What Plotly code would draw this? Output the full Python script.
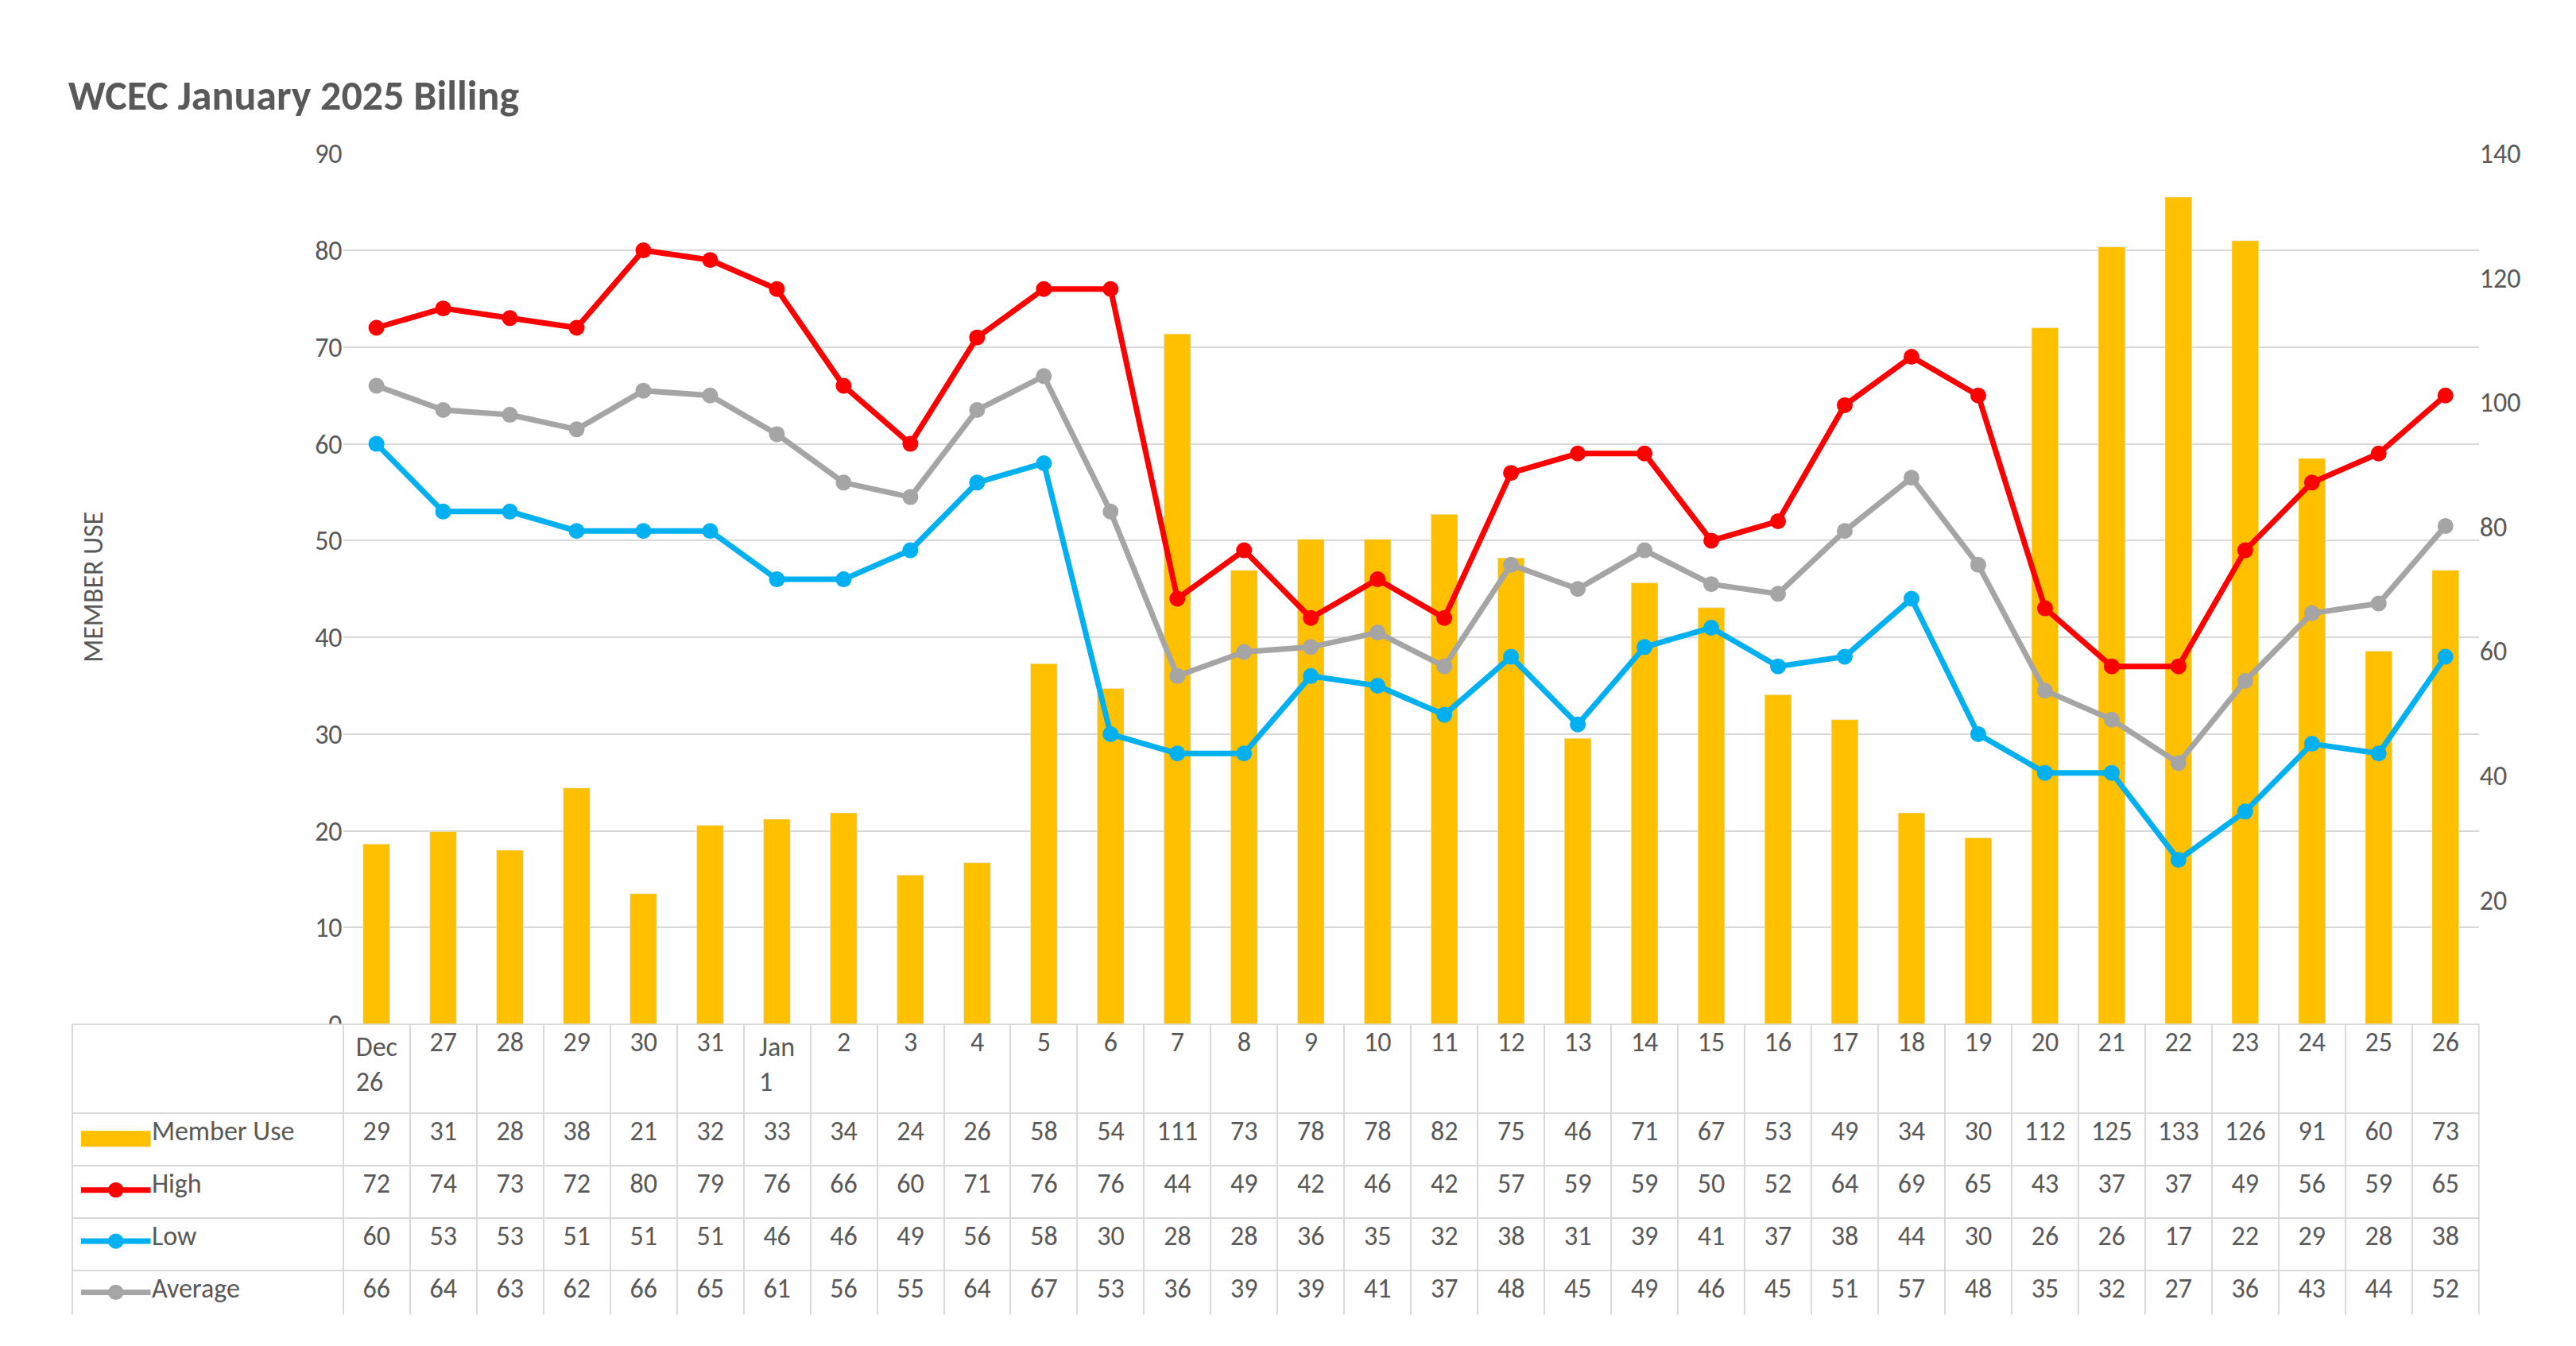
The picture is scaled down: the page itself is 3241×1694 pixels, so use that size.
import plotly.graph_objects as go

days = ["Dec<br>26", "27", "28", "29", "30", "31", "Jan<br>1", "2", "3", "4", "5", "6", "7", "8", "9",
        "10", "11", "12", "13", "14", "15", "16", "17", "18", "19", "20", "21", "22", "23", "24", "25", "26"]
member_use = [29, 31, 28, 38, 21, 32, 33, 34, 24, 26, 58, 54, 111, 73, 78, 78, 82, 75, 46, 71, 67, 53,
              49, 34, 30, 112, 125, 133, 126, 91, 60, 73]
high = [72, 74, 73, 72, 80, 79, 76, 66, 60, 71, 76, 76, 44, 49, 42, 46, 42, 57, 59, 59, 50, 52, 64, 69,
        65, 43, 37, 37, 49, 56, 59, 65]
low = [60, 53, 53, 51, 51, 51, 46, 46, 49, 56, 58, 30, 28, 28, 36, 35, 32, 38, 31, 39, 41, 37, 38, 44,
       30, 26, 26, 17, 22, 29, 28, 38]
average = [66, 63.5, 63, 61.5, 65.5, 65, 61, 56, 54.5, 63.5, 67, 53, 36, 38.5, 39, 40.5, 37, 47.5, 45, 49,
           45.5, 44.5, 51, 56.5, 47.5, 34.5, 31.5, 27, 35.5, 42.5, 43.5, 51.5]
series_names = ["Member Use", "High", "Low", "Average"]

YELLOW = "#FFC000"
RED = "#FF0000"
BLUE = "#00B0F0"
GREY = "#A5A5A5"
TXT = "#595959"
FONT = "Calibri, Carlito, Open Sans"
x = list(range(len(days)))

fig = go.Figure()
# bars on the primary axis (drawn at right), lines on the overlaying axis so they sit on top
fig.add_trace(go.Bar(x=x, y=member_use, name="Member Use", marker_color=YELLOW))
for name, vals, col in [("High", high, RED), ("Low", low, BLUE), ("Average", average, GREY)]:
    fig.add_trace(go.Scatter(x=x, y=vals, name=name, mode="lines+markers", yaxis="y2",
                             line=dict(color=col, width=7), marker=dict(color=col, size=20)))

pad = "\u00a0" * 12
avg_rounded = [int(v + 0.5) for v in average]
cols = [[pad + n for n in series_names]] + [[member_use[i], high[i], low[i], avg_rounded[i]] for i in x]

TOP, HEAD_H, ROW_H = 0.237, 112 / 1694, 66 / 1694
fig.add_trace(go.Table(
    domain=dict(x=[0.0255, 0.9598], y=[0.016, TOP]),
    columnwidth=[165] + [40.6] * len(days),
    header=dict(values=[""] + days, height=112, align="center",
                line=dict(color="#D9D9D9", width=2), fill_color="white",
                font=dict(size=34, color=TXT, family=FONT)),
    cells=dict(values=cols, height=66, align=["left"] + ["center"] * len(days),
               line=dict(color="#D9D9D9", width=2), fill_color="white",
               font=dict(size=34, color=TXT, family=FONT)),
))

# legend keys in the table's first column
for i, col in enumerate([YELLOW, RED, BLUE, GREY]):
    yc = TOP - HEAD_H - ROW_H * i - 0.021
    if i == 0:
        fig.add_shape(type="rect", xref="paper", yref="paper", x0=0.029, x1=0.056,
                      y0=yc - 0.006, y1=yc + 0.006, fillcolor=col, line_width=0)
    else:
        fig.add_shape(type="line", xref="paper", yref="paper", x0=0.029, x1=0.056,
                      y0=yc, y1=yc, line=dict(color=col, width=7))
        fig.add_shape(type="circle", xref="paper", yref="paper", x0=0.0395, x1=0.0455,
                      y0=yc - 0.0058, y1=yc + 0.0058, fillcolor=col, line_width=0)

fig.update_layout(
    width=3241, height=1694,
    margin=dict(l=0, r=0, t=0, b=0),
    paper_bgcolor="white", plot_bgcolor="white",
    showlegend=False, bargap=0.6,
    font=dict(family=FONT, color=TXT, size=34),
    title=dict(text="<b>WCEC January 2025 Billing</b>", x=0.024, y=0.945, xanchor="left",
               font=dict(size=52, color=TXT)),
    xaxis=dict(domain=[0.1307, 0.9598], range=[-0.5, len(days) - 0.5], showticklabels=False,
               showgrid=False, zeroline=False, showline=False),
    yaxis=dict(domain=[0.237, 0.9], side="right", range=[0, 140],
               tickvals=[20, 40, 60, 80, 100, 120, 140], showgrid=False, zeroline=False, ticks=""),
    yaxis2=dict(overlaying="y", side="left", range=[0, 90], dtick=10, gridcolor="#D9D9D9",
                gridwidth=2, zeroline=False, ticks=""),
)
fig.add_annotation(text="MEMBER USE", x=0.027, y=0.57, xref="paper", yref="paper", textangle=-90,
                   showarrow=False, font=dict(size=34, color=TXT))
fig.write_html("out.html")
